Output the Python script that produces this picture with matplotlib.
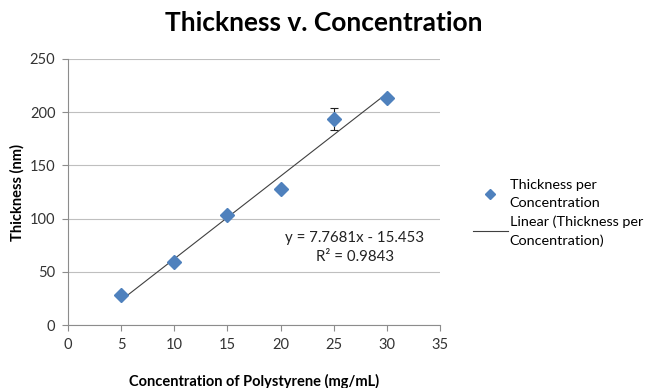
import matplotlib
matplotlib.use("Agg")
import matplotlib.pyplot as plt
from matplotlib.lines import Line2D
import numpy as np

plt.rcParams['font.family'] = ['Lato', 'DejaVu Sans']

# Measured film thickness for each polystyrene concentration
concentration = [5, 10, 15, 20, 25, 30]          # mg/mL
thickness = [28, 59, 103, 128, 193.5, 213]       # nm
thickness_err = [0, 0, 0, 0, 10, 0]              # nm

# Linear trendline coefficients
slope = 7.7681
intercept = -15.453
r_squared = 0.9843

x_ticks = [0, 5, 10, 15, 20, 25, 30, 35]
y_ticks = [0, 50, 100, 150, 200, 250]

fig = plt.figure(figsize=(6.47, 3.88), dpi=100)
ax = fig.add_axes([0.105, 0.162, 0.575, 0.686])

blue = '#4F81BD'
grid_gray = '#BFBFBF'
axis_gray = '#8C8C8C'

# Trendline across the measured range
x_fit = np.array([concentration[0], concentration[-1]])
ax.plot(x_fit, slope * x_fit + intercept, color='#404040', lw=0.8, zorder=2)

ax.errorbar(concentration, thickness, yerr=thickness_err, fmt='none',
            ecolor='#202020', elinewidth=0.8, capsize=3, capthick=0.8, zorder=3)
ax.plot(concentration, thickness, linestyle='none', marker='D', ms=6.7,
        color=blue, mec=blue, zorder=4)

ax.set_xlim(0, 35)
ax.set_ylim(0, 250)
ax.set_xticks(x_ticks)
ax.set_yticks(y_ticks)
ax.yaxis.grid(True, color=grid_gray, lw=0.8)
ax.set_axisbelow(True)

for side in ['top', 'right']:
    ax.spines[side].set_visible(False)
for side in ['left', 'bottom']:
    ax.spines[side].set_color(axis_gray)
    ax.spines[side].set_linewidth(0.8)
ax.tick_params(axis='both', direction='out', length=4, width=0.8,
               color=axis_gray, labelsize=10.5, labelcolor='#333333', pad=5)

ax.set_xlabel('Concentration of Polystyrene (mg/mL)', fontsize=10.5,
              fontweight='bold', labelpad=16)
ax.set_ylabel('Thickness (nm)', fontsize=10.5, fontweight='bold', labelpad=4)

fig.text(0.5, 0.94, 'Thickness v. Concentration', ha='center', va='center',
         fontsize=19, fontweight='bold')

ax.text(27.0, 73, f'y = {slope}x - {abs(intercept)}\nR² = {r_squared}',
        ha='center', va='center', fontsize=10.8, linespacing=1.5, color='#222222')

handles = [
    Line2D([], [], linestyle='none', marker='D', ms=5, color=blue),
    Line2D([], [], color='#404040', lw=0.8),
]
labels = ['Thickness per\nConcentration', 'Linear (Thickness per\nConcentration)']
leg = fig.legend(handles, labels, loc='center left', bbox_to_anchor=(0.711, 0.452),
                 frameon=False, fontsize=10.4, handlelength=2.4, handletextpad=0.15,
                 labelspacing=0.45)
for t in leg.get_texts():
    t.set_linespacing(1.6)

fig.savefig('out.png', dpi=100)
